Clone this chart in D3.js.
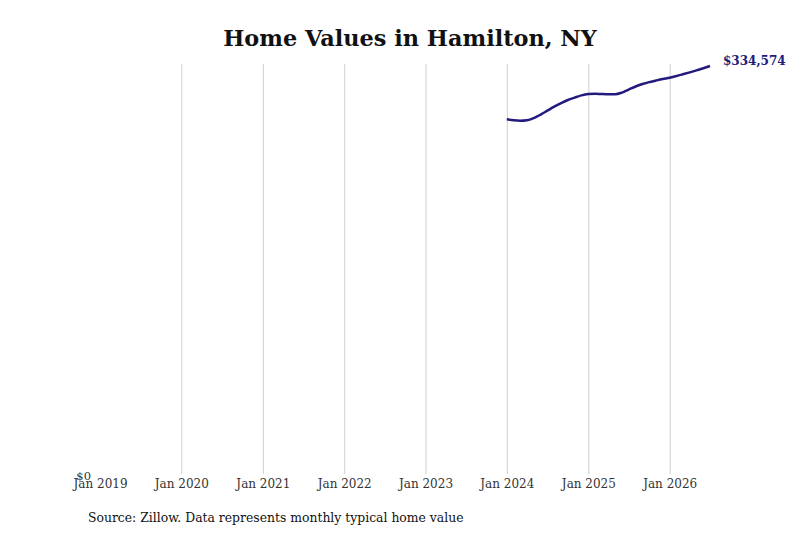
<!DOCTYPE html>
<html>
<head>
<meta charset="utf-8">
<script src="https://cdn.jsdelivr.net/npm/d3@7"></script>
<style>
  body { margin: 0; background: #fff; }
  svg { display: block; font-family: "DejaVu Serif", serif; }
  .grid line { stroke: #cfcfcf; stroke-width: 1; }
  .grid .domain { display: none; }
  .axis .domain { display: none; }
  .axis text { font-size: 12px; fill: #333; font-family: "DejaVu Serif", serif; }
  .axis--y text { font-size: 11.5px; }
</style>
</head>
<body>
<script>
(function () {
  'use strict';

  // monthly typical home value, Jan 2024 - Jul 2026
  const months = [
    "2024-01", "2024-02", "2024-03", "2024-04", "2024-05", "2024-06",
    "2024-07", "2024-08", "2024-09", "2024-10", "2024-11", "2024-12",
    "2025-01", "2025-02", "2025-03", "2025-04", "2025-05", "2025-06",
    "2025-07", "2025-08", "2025-09", "2025-10", "2025-11", "2025-12",
    "2026-01", "2026-02", "2026-03", "2026-04", "2026-05", "2026-06",
    "2026-07"
  ];
  const values = [
    290850, 290030, 289700, 290100, 291900, 294800,
    298000, 301300, 304200, 306700, 308700, 310500,
    311600, 311900, 311600, 311400, 311400, 312800,
    315300, 317800, 319800, 321400, 322700, 323900,
    325000, 326400, 327800, 329400, 331000, 332800,
    334574
  ];
  const xTicks = ["2019-01", "2020-01", "2021-01", "2022-01", "2023-01",
                  "2024-01", "2025-01", "2026-01"];
  const yTicks = [0];

  const parse = d3.timeParse("%Y-%m");
  const data = months.map(function (m, i) { return {date: parse(m), value: values[i]}; });

  const width = 800, height = 533;
  const margin = {left: 100, right: 90, top: 64, bottom: 59};
  const x0 = margin.left, x1 = width - margin.right;
  const y0 = height - margin.bottom, y1 = margin.top;

  const svg = d3.select("body").append("svg")
    .attr("width", width)
    .attr("height", height);

  const xScale = d3.scaleTime()
    .domain([parse("2019-01"), parse("2026-07")])
    .range([x0, x1]);

  const yScale = d3.scaleLinear()
    .domain([0, d3.max(values) * 1.005])
    .range([y0, y1]);

  // vertical grid lines (none at the first tick)
  svg.append("g")
    .attr("class", "grid")
    .attr("transform", "translate(0," + y0 + ")")
    .call(d3.axisBottom(xScale)
      .tickValues(xTicks.slice(1).map(parse))
      .tickSize(-(y0 - y1))
      .tickFormat(""));

  svg.append("g")
    .attr("class", "axis axis--x")
    .attr("transform", "translate(0," + y0 + ")")
    .call(d3.axisBottom(xScale)
      .tickValues(xTicks.map(parse))
      .tickSize(0)
      .tickPadding(5)
      .tickFormat(d3.timeFormat("%b %Y")));

  svg.append("g")
    .attr("class", "axis axis--y")
    .attr("transform", "translate(" + x0 + ",1.5)")
    .call(d3.axisLeft(yScale)
      .tickValues(yTicks)
      .tickSize(0)
      .tickPadding(9)
      .tickFormat(function (d) { return "$" + d3.format(",")(d); }));

  const line = d3.line()
    .x(function (d) { return xScale(d.date); })
    .y(function (d) { return yScale(d.value); })
    .curve(d3.curveMonotoneX);

  svg.append("path")
    .datum(data)
    .attr("fill", "none")
    .attr("stroke", "#221a7c")
    .attr("stroke-width", 2.5)
    .attr("d", line);

  const last = data[data.length - 1];
  svg.append("text")
    .attr("x", xScale(last.date) + 13)
    .attr("y", yScale(last.value) - 1)
    .attr("font-size", "12px")
    .attr("font-weight", "bold")
    .attr("fill", "#221a7c")
    .text("$" + d3.format(",")(last.value));

  svg.append("text")
    .attr("x", 410)
    .attr("y", 46)
    .attr("text-anchor", "middle")
    .attr("font-size", "22.4px")
    .attr("font-weight", "bold")
    .attr("fill", "#111")
    .text("Home Values in Hamilton, NY");

  svg.append("text")
    .attr("x", 88)
    .attr("y", 522)
    .attr("font-size", "12.4px")
    .attr("fill", "#111")
    .text("Source: Zillow. Data represents monthly typical home value");
})();
</script>
</body>
</html>
